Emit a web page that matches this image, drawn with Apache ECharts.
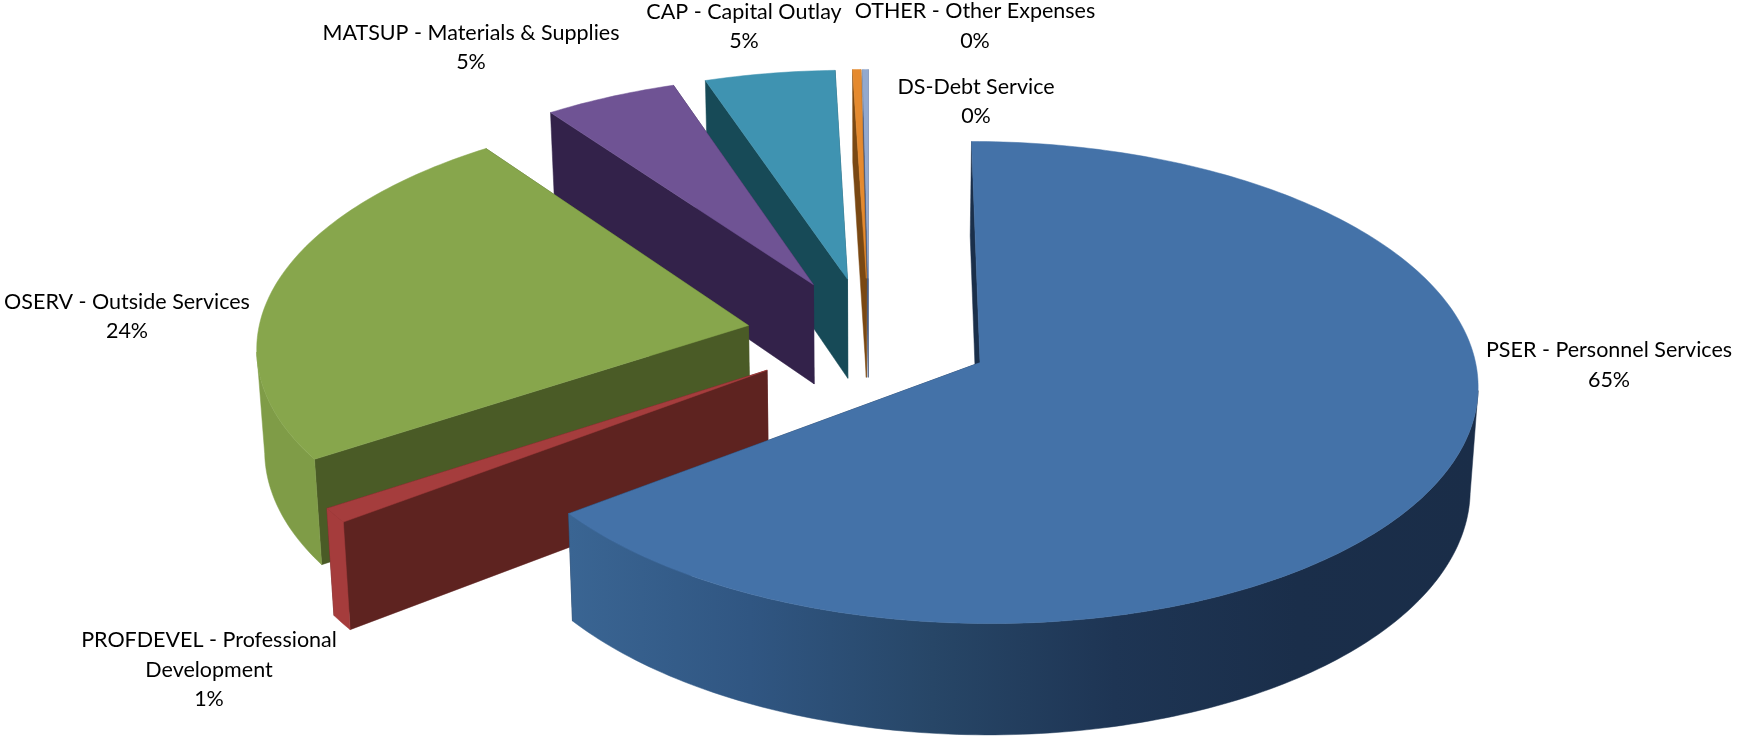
<!DOCTYPE html>
<html>
<head>
<meta charset="utf-8">
<title>Expenditures by category</title>
<style>html,body{margin:0;padding:0;background:#fff}#chart{width:1743px;height:736px}</style>
<script src="https://cdn.jsdelivr.net/npm/echarts@6/dist/echarts.min.js"></script>
</head>
<body>
<div id="chart"></div>
<script>
// Budget categories and their shares of the total, in percent.
const categories = [
  'PSER - Personnel Services',
  'PROFDEVEL - Professional\nDevelopment',
  'OSERV - Outside Services',
  'MATSUP - Materials & Supplies',
  'CAP - Capital Outlay',
  'OTHER - Other Expenses',
  'DS-Debt Service'
];
const shares = [64.7, 1.0, 24.2, 4.8, 4.7, 0.3, 0.2];

// Per-slice colours: top face, radial cut face, rim gradient (left to right).
const topColors = ['#4472a8', '#a53d3d', '#87a64c', '#6f5394', '#3f93b1', '#e58a2f', '#92a9cf'];
const cutColors = ['#1a2f4a', '#5e2320', '#4a5b26', '#33224a', '#174a57', '#7a4813', '#4a5d80'];
const rimColors = [
  ['#3a6593', '#305682', '#274667', '#1e3554', '#1a2e4a', '#1a2d48'],
  ['#a53c3c', '#a53c3c'],
  ['#7f9c47', '#7f9c47'],
  ['#33224a', '#33224a'],
  ['#174a57', '#174a57'],
  ['#7a4813', '#7a4813'],
  ['#4a5d80', '#4a5d80']
];

// Label centres on the page.
const labelX = [1609, 209, 127, 471, 744, 975, 976];
const labelY = [365, 670, 316.5, 47.5, 26.5, 26, 101.5];

// Projection of the pie plane onto the page (unit radius, Y pointing away from the viewer).
const cx = 869, cy = 336;
const scaleX = 491, scaleY = 235;
const perspective = 0.082;
const explode = 0.2505;
const thickness = 101;
const thicknessPerspective = 0.11;
const bottomShrink = 0.987;
// The rim is visible from roughly where the projected circle reaches its widest point.
const rimCosLimit = -0.1;

function project(X, Y, bottom) {
  const w = 1 + perspective * Y;
  if (!bottom) return [cx + scaleX * X / w, cy - scaleY * Y / w];
  return [
    cx + bottomShrink * scaleX * X / w,
    cy - bottomShrink * scaleY * Y / w + thickness / (1 + thicknessPerspective * Y)
  ];
}

const total = shares.reduce((a, b) => a + b, 0);
let running = 0;
const rows = shares.map((v, i) => {
  const start = running / total * 2 * Math.PI;
  running += v;
  return [i, start, running / total * 2 * Math.PI, v];
});

function renderSlice(params, api) {
  const i = api.value(0), a0 = api.value(1), a1 = api.value(2), v = api.value(3);
  const mid = (a0 + a1) / 2;
  const ox = explode * Math.sin(mid), oy = explode * Math.cos(mid);
  const rim = a => [ox + Math.sin(a), oy + Math.cos(a)];
  const steps = Math.max(2, Math.ceil((a1 - a0) / (Math.PI / 180)));
  const angles = [];
  for (let k = 0; k <= steps; k++) angles.push(a0 + (a1 - a0) * k / steps);

  const apexTop = project(ox, oy, false), apexBot = project(ox, oy, true);
  const arcTop = angles.map(a => project(rim(a)[0], rim(a)[1], false));
  const cut = a => {
    const r = rim(a);
    return [apexTop, project(r[0], r[1], false), project(r[0], r[1], true), apexBot];
  };
  const frontAngles = angles.filter(a => Math.cos(a) < rimCosLimit);
  const frontTop = frontAngles.map(a => project(rim(a)[0], rim(a)[1], false));
  const frontBot = frontAngles.map(a => project(rim(a)[0], rim(a)[1], true));
  const stops = rimColors[i];
  const rimFill = new echarts.graphic.LinearGradient(0, 0, 1, 0,
    stops.map((c, k) => ({ offset: k / (stops.length - 1), color: c })));

  const base = (categories.length - i) * 10;
  const poly = (points, fill, z) => ({
    type: 'polygon', z2: base + z, shape: { points },
    style: { fill, stroke: fill, lineWidth: 0.5 }
  });
  const children = [
    poly(cut(a1), cutColors[i], 0),
    poly(cut(a0), cutColors[i], 1)
  ];
  if (frontTop.length > 1) {
    children.push(poly(frontTop.concat(frontBot.slice().reverse()), rimFill, 2));
  }
  children.push(poly([apexTop].concat(arcTop), topColors[i], 3));
  children.push({
    type: 'text', z2: 500,
    style: {
      x: labelX[i], y: labelY[i],
      text: categories[i] + '\n' + Math.round(v / total * 100) + '%',
      font: '21.5px Lato, "Open Sans", sans-serif',
      fill: '#000', align: 'center', verticalAlign: 'middle', lineHeight: 29.5
    }
  });
  return { type: 'group', children };
}

const chart = echarts.init(document.getElementById('chart'), null, { renderer: 'canvas' });
chart.setOption({
  animation: false,
  backgroundColor: '#ffffff',
  series: [{
    type: 'custom',
    coordinateSystem: 'none',
    silent: true,
    renderItem: renderSlice,
    data: rows
  }]
});
</script>
</body>
</html>
